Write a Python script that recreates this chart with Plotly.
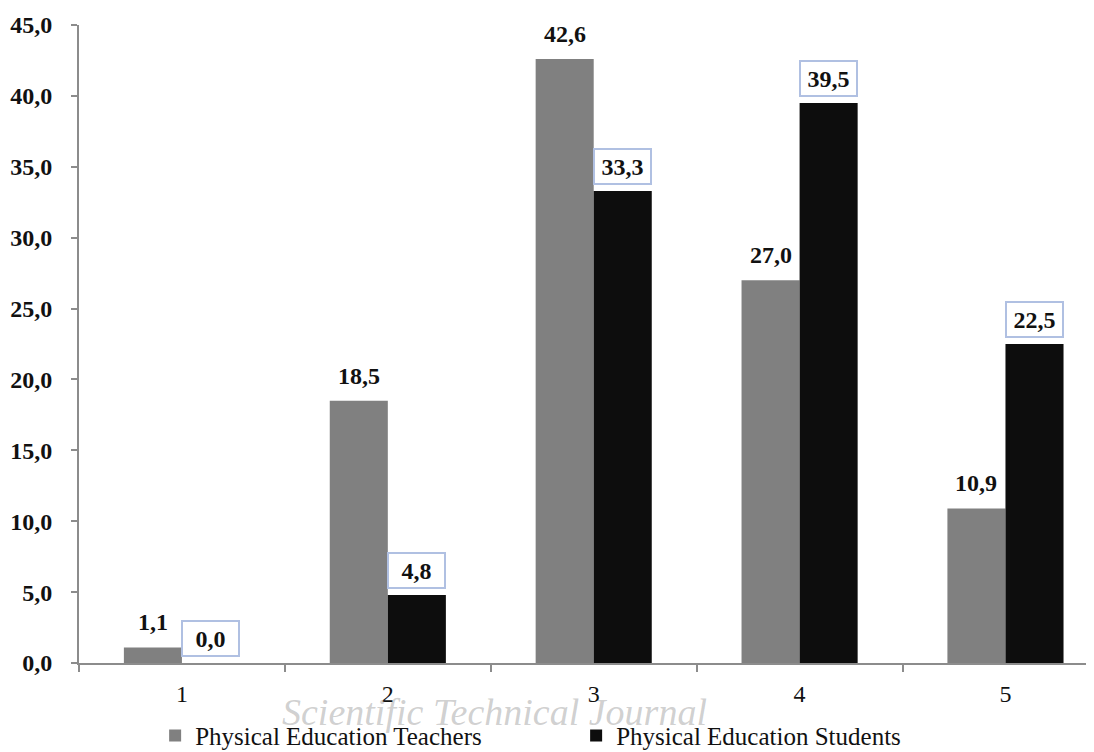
import plotly.graph_objects as go

categories = [1, 2, 3, 4, 5]
teachers = [1.1, 18.5, 42.6, 27.0, 10.9]
students = [0.0, 4.8, 33.3, 39.5, 22.5]
names = ["Physical Education Teachers", "Physical Education Students"]

SERIF = "Liberation Serif, Times New Roman, serif"
BAR_W = 0.282

fig = go.Figure()
fig.add_trace(go.Bar(x=categories, y=teachers, name=names[0], marker_color="#808080",
                     marker_line_width=0))
fig.add_trace(go.Bar(x=categories, y=students, name=names[1], marker_color="#0d0d0d",
                     marker_line_width=0))

def fmt(v):
    return f"{v:.1f}".replace(".", ",")

ann = []
for c, t, s in zip(categories, teachers, students):
    ann.append(dict(x=c - BAR_W / 2, y=t, xref="x", yref="y", text=f"<b>{fmt(t)}</b>",
                    showarrow=False, yanchor="bottom", yshift=10,
                    font=dict(family=SERIF, size=24, color="#111111")))
    ann.append(dict(x=c + BAR_W / 2, y=s, xref="x", yref="y", text=f"<b>{fmt(s)}</b>",
                    showarrow=False, yanchor="bottom", yshift=6, width=51, height=29,
                    bordercolor="#b0c0e2", borderwidth=2, borderpad=2, bgcolor="white",
                    font=dict(family=SERIF, size=24, color="#111111")))
ann.append(dict(x=0.409, y=-0.077, xref="paper", yref="paper", yanchor="middle",
                text="<i>Scientific Technical Journal</i>",
                showarrow=False, font=dict(family=SERIF, size=38, color="rgba(150,150,150,0.45)")))

fig.update_layout(
    width=1086, height=752,
    margin=dict(l=71, r=0, t=17, b=97),
    paper_bgcolor="white", plot_bgcolor="white",
    barmode="group", bargap=0.436, bargroupgap=0,
    separators=",.",
    annotations=ann,
    legend=dict(orientation="h", x=0.075, y=-0.078, xanchor="left", yanchor="top",
                entrywidth=376, font=dict(family=SERIF, size=25, color="#111111"),
                itemsizing="constant", tracegroupgap=0),
    xaxis=dict(range=[0.5, 5.43], tickvals=categories, ticktext=[str(c) for c in categories],
               ticks="", showgrid=False, zeroline=False, showline=True, automargin=False,
               linecolor="#8c8c8c", linewidth=2, ticklabelstandoff=8,
               tickfont=dict(family=SERIF, size=24, color="#111111"),
               minor=dict(tick0=0.5, dtick=1, ticks="outside", ticklen=7, tickcolor="#8c8c8c",
                          tickwidth=2, showgrid=False)),
    yaxis=dict(range=[0, 45], dtick=5, tickformat=".1f", ticks="outside", ticklen=6,
               tickcolor="#8c8c8c", tickwidth=2, showgrid=False, zeroline=False, automargin=False,
               showline=True, linecolor="#8c8c8c", linewidth=2, ticklabelstandoff=14,
               tickfont=dict(family=SERIF, size=24, color="#111111", weight="bold")),
)

fig.write_html("out.html")
